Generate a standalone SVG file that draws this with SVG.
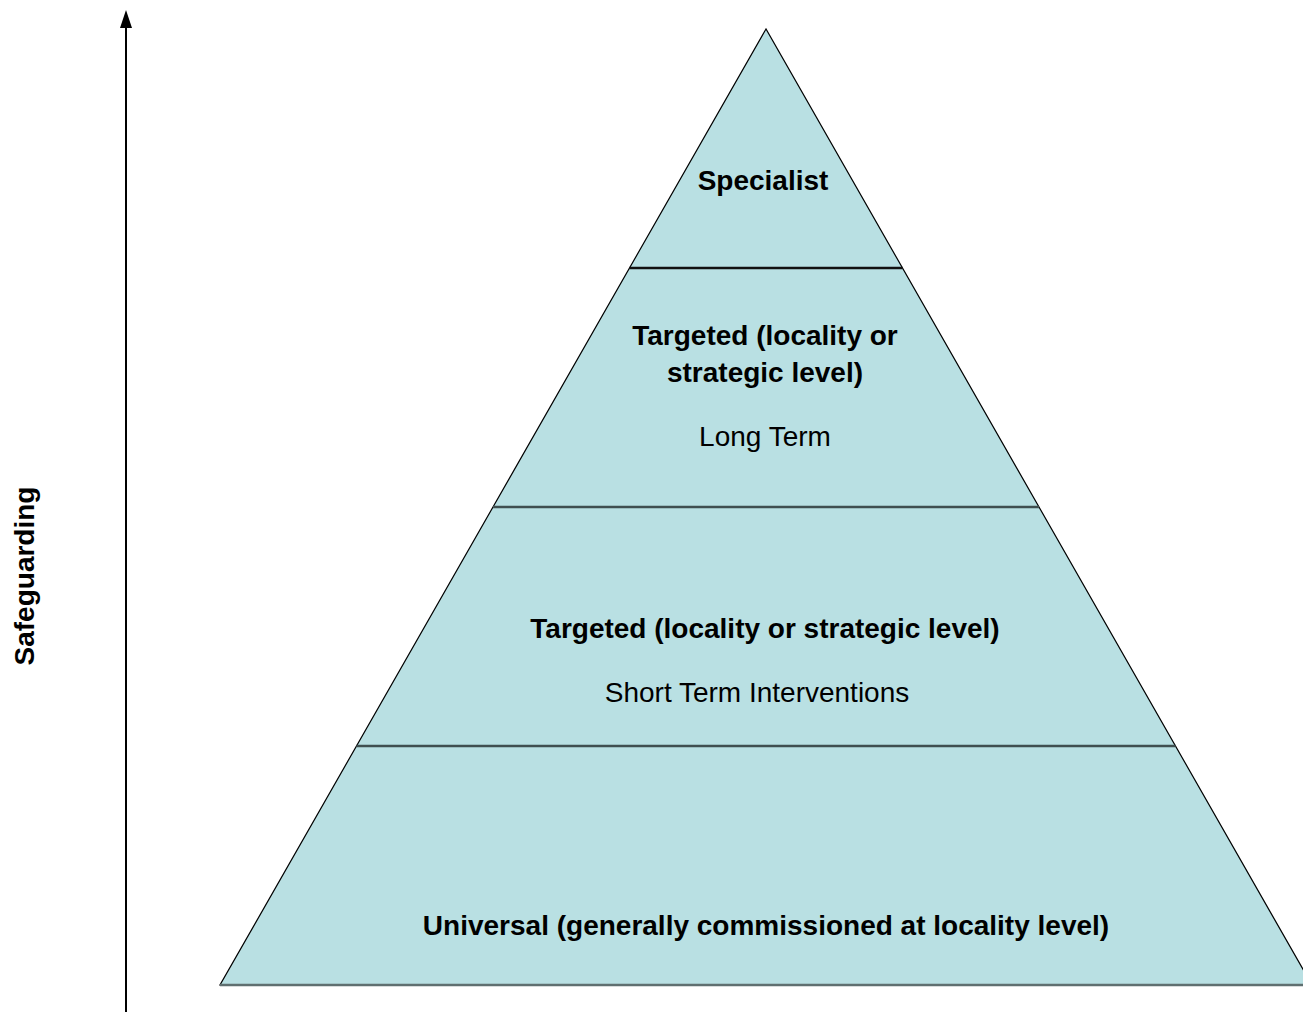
<svg xmlns="http://www.w3.org/2000/svg" width="1303" height="1012" viewBox="0 0 1303 1012">
<style>
.b{font-family:"Liberation Sans",Arial,sans-serif;font-weight:bold;font-size:28px;fill:#000;text-anchor:middle}
.r{font-family:"Liberation Sans",Arial,sans-serif;font-size:28px;fill:#000;text-anchor:middle}
.div{stroke:#3f4f50;stroke-width:2.5}
</style>
<rect width="1303" height="1012" fill="#fff"/>
<g id="pyramid">
<polygon points="766,29 220,985 1312,985" fill="#b9e0e3" stroke="#000" stroke-width="1.2"/>
<line x1="220" y1="985" x2="1312" y2="985" stroke="#5f6f70" stroke-width="2.5"/>
</g>
<g id="connectors">
<line x1="629.5" y1="268" x2="902.5" y2="268" stroke="#111" stroke-width="2.5"/>
<line class="div" x1="493" y1="507" x2="1039" y2="507"/>
<line class="div" x1="356.5" y1="746" x2="1175.5" y2="746"/>
<line x1="126" y1="1012" x2="126" y2="26" stroke="#000" stroke-width="2"/>
<polygon points="126,10 132,28 120,28" fill="#000"/>
</g>
<g id="specialist"><text class="b" x="763" y="190">Specialist</text></g>
<g id="targeted-long">
<text class="b" x="765" y="345">Targeted (locality or</text>
<text class="b" x="765" y="382">strategic level)</text>
<text class="r" x="765" y="446">Long Term</text>
</g>
<g id="targeted-short">
<text class="b" x="765" y="638">Targeted (locality or strategic level)</text>
<text class="r" x="757" y="702">Short Term Interventions</text>
</g>
<g id="universal"><text class="b" x="766" y="935">Universal (generally commissioned at locality level)</text></g>
<g id="safeguarding"><text class="b" transform="translate(34,576) rotate(-90)" x="0" y="0">Safeguarding</text></g>
</svg>
